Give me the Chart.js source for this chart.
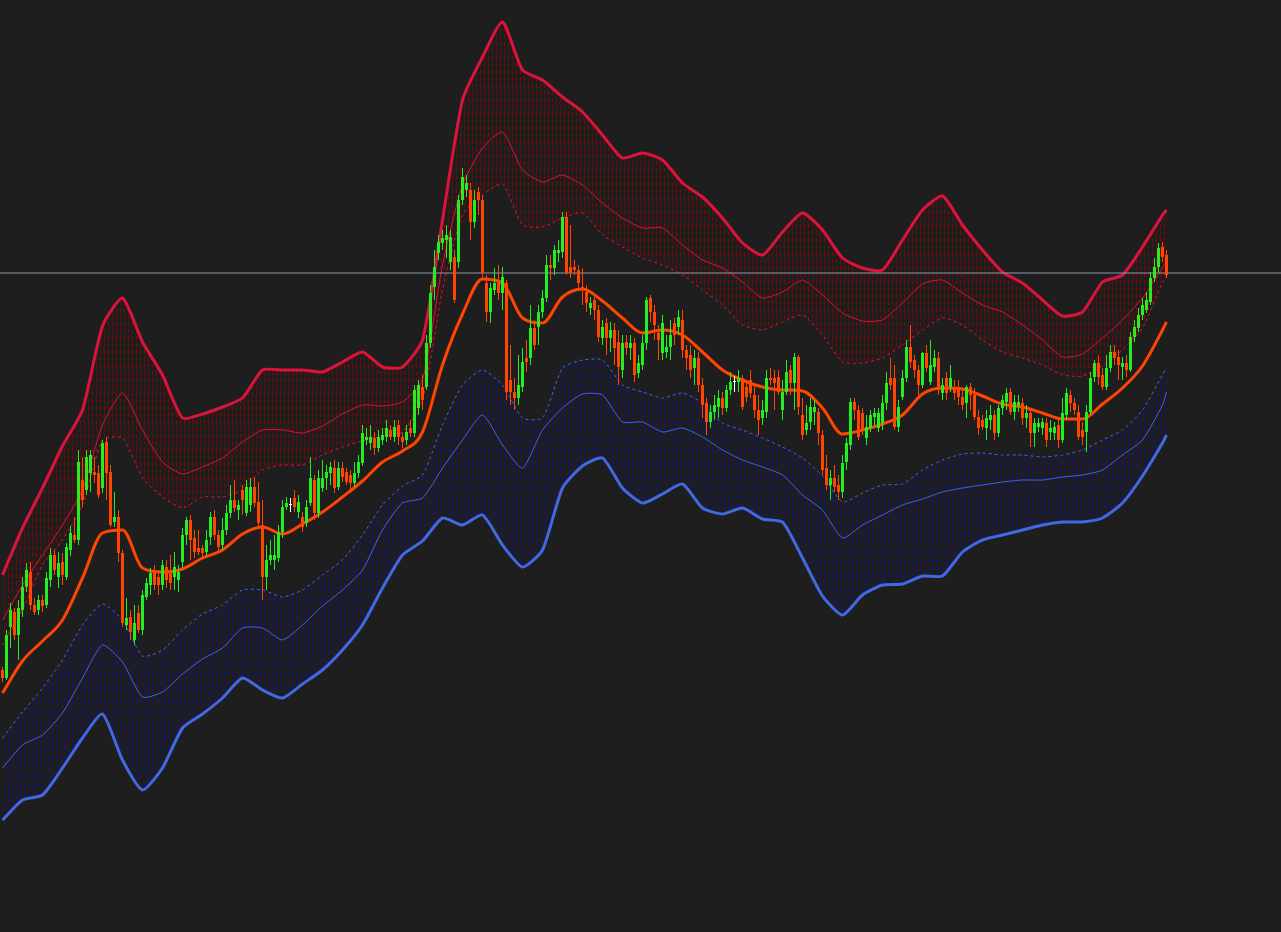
<!DOCTYPE html>
<html>
<head>
<meta charset="utf-8">
<title>Price bands</title>
<script src="https://cdn.jsdelivr.net/npm/chart.js@4.4.1/dist/chart.umd.min.js"></script>
<style>
    html, body { margin: 0; padding: 0; background: #1e1e1e; overflow: hidden; }
    #wrap { position: relative; width: 1281px; height: 932px; }
</style>
</head>
<body>
<div id="wrap"><canvas id="priceChart"></canvas></div>
<script>
// candles, one per bar
const opens = [1330,1322,1373,1388,1365,1390,1413,1428,1395,1390,1400,1395,1420,1445,1423,1438,1423,1450,1465,1460,1520,1510,1527,1528,1527,1512,1558,1528,1478,1483,1447,1375,1383,1360,1387,1370,1403,
    1415,1428,1423,1415,1433,1427,1423,1420,1438,1465,1480,1462,1452,1452,1448,1463,1483,1465,1455,1470,1487,1500,1490,1510,1487,1495,1513,1498,1475,1423,1440,1440,1442,1468,1493,1495,1502,1488,
    1483,1477,1497,1520,1487,1512,1522,1527,1532,1513,1532,1528,1525,1517,1527,1537,1560,1557,1562,1552,1560,1563,1570,1563,1575,1563,1560,1572,1567,1592,1613,1613,1657,1713,1747,1757,1760,
    1738,1743,1738,1800,1810,1810,1778,1808,1800,1717,1688,1710,1717,1707,1717,1620,1608,1602,1613,1642,1642,1672,1673,1688,1702,1735,1732,1747,1748,1783,1733,1733,1730,1713,1708,1692,1700,1690,
    1662,1677,1662,1670,1658,1630,1658,1652,1657,1627,1635,1657,1702,1688,1667,1647,1648,1653,1677,1673,1680,1650,1645,1632,1642,1615,1597,1578,1588,1593,1602,1592,1610,1618,1618,1622,1613,
    1620,1605,1590,1582,1588,1622,1622,1623,1590,1608,1630,1617,1643,1585,1570,1578,1588,1588,1565,1532,1515,1522,1515,1508,1538,1555,1598,1590,1587,1562,1572,1583,1572,1577,1597,1622,1622,1573,
    1603,1622,1653,1640,1630,1615,1647,1618,1633,1642,1607,1622,1613,1613,1613,1603,1597,1613,1605,1583,1580,1572,1580,1585,1567,1592,1598,1608,1588,1595,1597,1582,1587,1567,1573,1572,1577,
    1568,1567,1575,1560,1585,1605,1597,1588,1570,1568,1588,1623,1637,1625,1613,1632,1648,1643,1633,1637,1630,1663,1672,1685,1690,1698,1722,1733,1753,1745];
const highs = [1333,1370,1397,1392,1400,1423,1437,1438,1402,1405,1405,1428,1452,1450,1448,1447,1457,1474,1483,1550,1543,1550,1550,1543,1535,1560,1563,1535,1508,1490,1450,1402,1390,1395,1395,1410,1422,
    1432,1435,1430,1440,1440,1445,1448,1435,1472,1483,1485,1470,1470,1455,1470,1488,1490,1470,1482,1495,1515,1520,1500,1515,1520,1522,1522,1518,1500,1455,1460,1465,1475,1500,1503,1502,1510,1505,
    1488,1500,1543,1525,1530,1540,1535,1538,1540,1538,1538,1532,1530,1538,1545,1575,1572,1575,1568,1570,1572,1580,1575,1580,1580,1567,1575,1580,1615,1620,1625,1665,1715,1750,1765,1770,1775,
    1770,1750,1805,1832,1825,1817,1810,1813,1805,1725,1717,1732,1735,1733,1720,1655,1622,1645,1652,1660,1695,1680,1695,1710,1745,1745,1755,1760,1788,1788,1775,1740,1735,1732,1715,1703,1703,1695,
    1680,1682,1678,1677,1670,1665,1665,1665,1662,1645,1665,1703,1705,1695,1675,1685,1665,1680,1682,1690,1690,1655,1655,1650,1648,1622,1602,1595,1605,1610,1608,1615,1628,1624,1630,1625,1620,
    1630,1615,1605,1600,1630,1632,1630,1630,1620,1640,1635,1647,1645,1602,1595,1602,1600,1592,1570,1545,1530,1535,1525,1545,1562,1602,1602,1595,1592,1585,1590,1592,1592,1605,1628,1642,1635,1600,
    1630,1660,1675,1645,1635,1648,1655,1660,1650,1648,1622,1628,1635,1620,1620,1610,1615,1617,1612,1590,1585,1590,1595,1590,1595,1605,1612,1612,1605,1605,1602,1595,1592,1582,1582,1582,1582,
    1580,1578,1580,1602,1612,1610,1602,1595,1578,1595,1628,1640,1645,1632,1645,1655,1655,1650,1643,1645,1668,1680,1692,1702,1708,1728,1742,1757,1758,1750];
const lows = [1318,1320,1352,1360,1340,1383,1408,1390,1385,1385,1388,1392,1413,1425,1412,1415,1420,1444,1457,1455,1493,1505,1508,1517,1502,1507,1500,1473,1473,1438,1373,1370,1360,1355,1367,1365,1400,
    1405,1410,1405,1410,1412,1410,1410,1408,1432,1455,1440,1442,1445,1440,1444,1455,1460,1448,1450,1465,1482,1488,1480,1485,1484,1488,1493,1473,1400,1410,1435,1430,1438,1462,1490,1488,1488,1482,
    1468,1473,1494,1480,1482,1508,1510,1515,1507,1510,1518,1515,1510,1513,1522,1534,1555,1550,1545,1548,1555,1558,1560,1558,1555,1552,1555,1563,1563,1585,1590,1610,1652,1700,1740,1750,1742,
    1730,1697,1732,1795,1803,1760,1772,1785,1720,1678,1677,1705,1700,1690,1600,1595,1590,1595,1608,1628,1635,1650,1655,1682,1698,1720,1725,1738,1742,1725,1722,1725,1712,1695,1688,1685,1680,1658,
    1655,1645,1648,1635,1615,1622,1645,1640,1618,1622,1630,1650,1678,1660,1640,1640,1642,1640,1655,1665,1642,1630,1622,1615,1608,1582,1565,1572,1580,1582,1585,1588,1605,1608,1608,1590,1598,
    1602,1582,1565,1575,1582,1615,1590,1605,1580,1605,1605,1590,1585,1560,1565,1570,1575,1555,1525,1510,1500,1508,1500,1502,1530,1550,1580,1560,1565,1555,1568,1575,1568,1570,1590,1610,1570,1568,
    1600,1618,1632,1622,1605,1612,1628,1615,1628,1605,1600,1600,1608,1600,1595,1590,1582,1590,1580,1565,1570,1560,1570,1560,1563,1585,1590,1585,1580,1588,1575,1572,1553,1553,1568,1565,1553,
    1560,1560,1552,1557,1580,1588,1585,1560,1555,1548,1585,1618,1615,1610,1610,1628,1635,1620,1620,1623,1628,1658,1668,1680,1687,1695,1718,1728,1738,1722];
const closes = [1322,1365,1390,1365,1392,1413,1430,1395,1388,1400,1394,1422,1445,1430,1437,1425,1453,1467,1460,1538,1500,1543,1545,1525,1505,1557,1527,1475,1483,1447,1377,1382,1368,1377,1370,1405,1417,
    1427,1415,1415,1435,1420,1417,1433,1428,1465,1480,1460,1448,1448,1447,1460,1483,1465,1453,1470,1487,1500,1492,1495,1500,1513,1513,1497,1477,1423,1440,1445,1445,1468,1493,1497,1495,1493,1498,
    1473,1493,1522,1487,1522,1522,1528,1533,1512,1532,1523,1518,1517,1527,1538,1567,1563,1563,1552,1563,1565,1572,1563,1573,1563,1558,1568,1567,1610,1615,1600,1657,1707,1733,1758,1762,1765,
    1763,1700,1800,1823,1817,1778,1800,1800,1727,1688,1712,1717,1707,1723,1608,1608,1602,1615,1638,1638,1672,1655,1688,1702,1735,1732,1750,1750,1783,1727,1727,1730,1717,1710,1697,1697,1690,1663,
    1673,1662,1670,1652,1633,1657,1652,1657,1625,1637,1657,1700,1688,1675,1660,1677,1653,1665,1665,1683,1650,1642,1630,1642,1615,1595,1578,1588,1595,1602,1592,1610,1618,1618,1622,1593,1603,
    1607,1590,1580,1590,1622,1620,1617,1608,1608,1628,1617,1643,1593,1565,1577,1593,1593,1567,1530,1515,1522,1513,1508,1537,1557,1598,1590,1563,1570,1573,1585,1587,1587,1597,1617,1615,1573,1593,
    1622,1653,1638,1630,1615,1647,1632,1635,1642,1610,1615,1607,1622,1607,1603,1595,1613,1605,1583,1572,1573,1582,1585,1567,1592,1600,1607,1588,1598,1598,1582,1587,1567,1577,1577,1578,1560,
    1572,1573,1560,1587,1607,1597,1590,1563,1563,1588,1622,1637,1623,1613,1632,1648,1642,1635,1637,1630,1663,1673,1685,1695,1700,1722,1733,1752,1743,1725];

// indicator lines, read every 5th bar (bar number in bandIdx)
const bandIdx = [0,5,10,15,20,25,30,35,40,45,50,55,60,65,70,75,80,85,90,95,100,105,110,115,120,125,130,135,140,145,
    150,155,160,165,170,175,180,185,190,195,200,205,210,215,220,225,230,235,240,245,250,255,260,265,270,275,280,285,290,291];
const upperOuter = [1425,1472,1512,1554,1590,1674,1702,1658,1625,1582,1586,1593,1602,1630,1630,1630,1628,1638,1648,1633,
    1633,1660,1780,1900,1943,1978,1930,1920,1903,1888,1865,1842,1847,1840,1817,1803,1782,1757,1745,1768,
    1787,1770,1742,1732,1730,1760,1790,1804,1775,1750,1728,1717,1700,1684,1688,1718,1725,1753,1785,1790];
const upperMid = [1380,1415,1445,1475,1510,1575,1607,1570,1538,1526,1533,1542,1558,1570,1570,1567,1574,1586,1595,1594,
    1598,1620,1735,1815,1852,1868,1830,1818,1825,1815,1797,1782,1772,1772,1755,1740,1732,1718,1702,1708,
    1720,1705,1687,1679,1680,1697,1716,1720,1707,1695,1688,1675,1660,1643,1646,1662,1680,1702,1732,1740];
const upperInner = [1355,1390,1435,1460,1495,1560,1562,1522,1503,1492,1503,1503,1510,1530,1535,1535,1545,1553,1559,1564,
    1568,1600,1710,1785,1805,1816,1775,1773,1782,1787,1765,1753,1742,1735,1725,1710,1695,1675,1670,1678,
    1685,1665,1638,1637,1642,1655,1670,1682,1675,1660,1648,1642,1635,1625,1624,1634,1650,1672,1718,1723];
const middle = [1307,1339,1359,1380,1422,1467,1470,1432,1428,1431,1442,1450,1466,1473,1466,1476,1488,1503,1519,1538,
    1549,1568,1635,1686,1721,1717,1682,1677,1703,1711,1699,1682,1667,1670,1665,1648,1630,1620,1613,1610,
    1609,1592,1566,1570,1576,1585,1606,1612,1611,1604,1596,1593,1587,1581,1581,1596,1612,1634,1670,1678];
const lowerInner = [1262,1288,1312,1340,1375,1396,1380,1344,1350,1370,1386,1395,1410,1410,1403,1410,1425,1440,1465,1495,
    1514,1525,1575,1615,1630,1615,1582,1582,1632,1640,1640,1615,1608,1602,1607,1597,1577,1570,1562,1553,
    1542,1524,1498,1507,1515,1516,1530,1540,1546,1547,1545,1545,1543,1545,1550,1560,1570,1590,1625,1632];
const lowerMid = [1232,1255,1265,1287,1322,1355,1338,1303,1308,1326,1341,1352,1372,1372,1360,1375,1394,1410,1430,1470,
    1497,1502,1532,1560,1585,1555,1532,1570,1592,1606,1605,1578,1578,1568,1572,1563,1550,1540,1533,1525,
    1505,1490,1462,1475,1485,1495,1501,1508,1512,1515,1518,1520,1520,1523,1525,1530,1545,1560,1595,1608];
const lowerOuter = [1180,1200,1205,1232,1262,1286,1240,1210,1232,1272,1286,1302,1322,1310,1302,1316,1330,1350,1375,1412,
    1445,1459,1482,1475,1485,1455,1433,1450,1512,1534,1542,1512,1497,1506,1516,1492,1486,1492,1481,1478,
    1442,1404,1385,1405,1415,1416,1424,1424,1448,1460,1465,1470,1475,1478,1478,1482,1497,1524,1557,1565];
const bidPrice = 1727;

const upColor = '#22ee22';
const downColor = '#ff4500';
const dojiColor = '#ffffff';

// short vertical dashes used to hatch the band areas
function dashPattern(color) {
    const c = document.createElement('canvas');
    c.width = 4;
    c.height = 7;
    const g = c.getContext('2d');
    g.fillStyle = color;
    g.fillRect(0, 0, 1, 4);
    return g.createPattern(c, 'repeat');
}

const barColors = opens.map((o, i) => closes[i] > o ? upColor : (closes[i] < o ? downColor : dojiColor));
const toLine = arr => arr.map((v, k) => ({ x: bandIdx[k], y: v }));

function bandLine(data, color, width, dash, order, fill, bg) {
    return {
        type: 'line',
        data: toLine(data),
        borderColor: color,
        borderWidth: width,
        borderDash: dash,
        pointRadius: 0,
        tension: 0.2,
        fill: fill,
        backgroundColor: bg || 'transparent',
        order: order
    };
}

const ctx = document.getElementById('priceChart').getContext('2d');
new Chart(ctx, {
    type: 'bar',
    data: {
        datasets: [
            bandLine(upperOuter, '#dc143c', 3, [], 5, 2, dashPattern('#8b0000')),
            bandLine(upperMid, '#dc143c', 1, [], 4, false),
            bandLine(upperInner, '#dc143c', 1, [3, 3], 4, false),
            {
                type: 'line',
                data: toLine(middle),
                borderColor: '#ff4500',
                borderWidth: 3,
                pointRadius: 0,
                cubicInterpolationMode: 'monotone',
                fill: false,
                order: 2
            },
            bandLine(lowerInner, '#4169e1', 1, [3, 3], 4, false),
            bandLine(lowerMid, '#4169e1', 1, [], 4, false),
            bandLine(lowerOuter, '#4169e1', 3, [], 5, 4, dashPattern('#10108a')),
            {
                type: 'line',
                data: [{ x: -0.625, y: bidPrice }, { x: 319.625, y: bidPrice }],
                borderColor: '#8a9bb0',
                borderWidth: 1,
                pointRadius: 0,
                fill: false,
                order: 3
            },
            {
                label: 'wicks',
                data: opens.map((o, i) => ({ x: i, y: [lows[i], highs[i]] })),
                backgroundColor: barColors,
                barThickness: 1,
                grouped: false,
                inflateAmount: 0,
                borderWidth: 0,
                order: 1
            },
            {
                label: 'bodies',
                data: opens.map((o, i) => ({ x: i, y: [o, closes[i]] })),
                backgroundColor: barColors,
                barThickness: 3,
                minBarLength: 1,
                grouped: false,
                inflateAmount: 0,
                borderWidth: 0,
                order: 0
            }
        ]
    },
    options: {
        responsive: true,
        maintainAspectRatio: false,
        animation: false,
        events: [],
        layout: { padding: 0 },
        plugins: {
            legend: { display: false },
            tooltip: { enabled: false }
        },
        scales: {
            x: {
                type: 'linear',
                min: -0.625,
                max: 319.625,
                offset: false,
                display: false
            },
            y: {
                type: 'linear',
                min: 1068,
                max: 2000,
                display: false
            }
        }
    }
});
</script>
</body>
</html>
